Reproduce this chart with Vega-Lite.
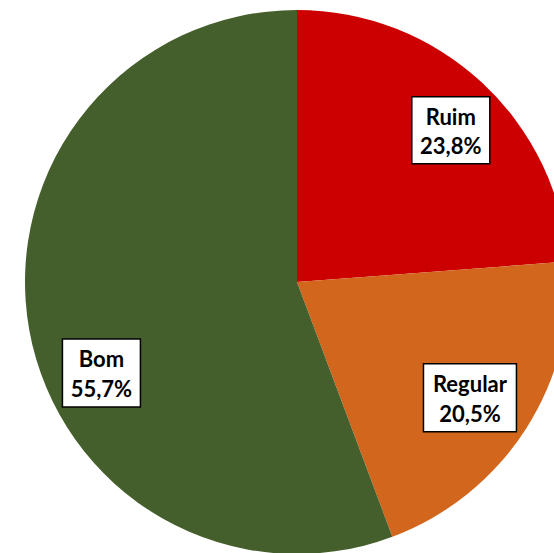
{
  "$schema": "https://vega.github.io/schema/vega-lite/v6.json",
  "width": 594,
  "height": 564,
  "padding": 0,
  "autosize": {"type": "none"},
  "background": "white",
  "config": {"view": {"stroke": null}},
  "data": {"values": [
    {"categoria": "Ruim", "valor": 23.8, "ordem": 1},
    {"categoria": "Regular", "valor": 20.5, "ordem": 2},
    {"categoria": "Bom", "valor": 55.7, "ordem": 3}
  ]},
  "transform": [
    {"stack": "valor", "groupby": [], "sort": [{"field": "ordem", "order": "ascending"}], "as": ["v0", "v1"]},
    {"calculate": "(datum.v0 + datum.v1) / 100 * PI", "as": "meio"},
    {"calculate": "sin(datum.meio) * 0.783", "as": "px"},
    {"calculate": "cos(datum.meio) * 0.783", "as": "py"},
    {"calculate": "[datum.categoria, replace(format(datum.valor, '.1f'), '.', ',') + '%']", "as": "rotulo"}
  ],
  "layer": [
    {
      "mark": {"type": "arc", "outerRadius": 272, "strokeWidth": 0},
      "encoding": {
        "theta": {"field": "v0", "type": "quantitative", "scale": {"domain": [0, 100]}},
        "theta2": {"field": "v1"},
        "color": {"field": "categoria", "type": "nominal", "scale": {"domain": ["Ruim", "Regular", "Bom"], "range": ["#CC0000", "#D2661C", "#445F2B"]}, "legend": null}
      }
    },
    {
      "transform": [{"filter": "datum.categoria == 'Ruim'"}],
      "mark": {"type": "point", "filled": true, "fill": "white", "fillOpacity": 1, "opacity": 1, "stroke": "black", "strokeWidth": 1.5, "size": 6084, "xOffset": 9, "yOffset": 4.5},
      "encoding": {
        "x": {"field": "px", "type": "quantitative", "scale": {"domain": [-1.0919, 1.0919], "nice": false, "zero": false}, "axis": null},
        "y": {"field": "py", "type": "quantitative", "scale": {"domain": [-1.0368, 1.0368], "nice": false, "zero": false}, "axis": null},
        "shape": {"field": "categoria", "type": "nominal", "scale": {"domain": ["Ruim", "Regular", "Bom"], "range": ["M-1,-0.859H1V0.859H-1Z", "M-1.192,-0.872H1.192V0.872H-1.192Z", "M-1,-0.872H1V0.872H-1Z"]}, "legend": null}
      }
    },
    {
      "transform": [{"filter": "datum.categoria == 'Ruim'"}],
      "mark": {"type": "text", "font": "Lato", "fontWeight": "bold", "fontSize": 22, "lineHeight": 29.5, "align": "center", "baseline": "middle", "color": "black", "xOffset": 9, "yOffset": 4.5, "dy": -12.5},
      "encoding": {
        "x": {"field": "px", "type": "quantitative"},
        "y": {"field": "py", "type": "quantitative"},
        "text": {"field": "rotulo"}
      }
    },
    {
      "transform": [{"filter": "datum.categoria == 'Regular'"}],
      "mark": {"type": "point", "filled": true, "fill": "white", "fillOpacity": 1, "opacity": 1, "stroke": "black", "strokeWidth": 1.5, "size": 6084, "xOffset": -6.5, "yOffset": 1},
      "encoding": {
        "x": {"field": "px", "type": "quantitative"},
        "y": {"field": "py", "type": "quantitative"},
        "shape": {"field": "categoria", "type": "nominal", "legend": null}
      }
    },
    {
      "transform": [{"filter": "datum.categoria == 'Regular'"}],
      "mark": {"type": "text", "font": "Lato", "fontWeight": "bold", "fontSize": 22, "lineHeight": 29.5, "align": "center", "baseline": "middle", "color": "black", "xOffset": -6.5, "yOffset": 1, "dy": -12.5},
      "encoding": {
        "x": {"field": "px", "type": "quantitative"},
        "y": {"field": "py", "type": "quantitative"},
        "text": {"field": "rotulo"}
      }
    },
    {
      "transform": [{"filter": "datum.categoria == 'Bom'"}],
      "mark": {"type": "point", "filled": true, "fill": "white", "fillOpacity": 1, "opacity": 1, "stroke": "black", "strokeWidth": 1.5, "size": 6084, "xOffset": 14, "yOffset": 53},
      "encoding": {
        "x": {"field": "px", "type": "quantitative"},
        "y": {"field": "py", "type": "quantitative"},
        "shape": {"field": "categoria", "type": "nominal", "legend": null}
      }
    },
    {
      "transform": [{"filter": "datum.categoria == 'Bom'"}],
      "mark": {"type": "text", "font": "Lato", "fontWeight": "bold", "fontSize": 22, "lineHeight": 29.5, "align": "center", "baseline": "middle", "color": "black", "xOffset": 14, "yOffset": 53, "dy": -12.5},
      "encoding": {
        "x": {"field": "px", "type": "quantitative"},
        "y": {"field": "py", "type": "quantitative"},
        "text": {"field": "rotulo"}
      }
    }
  ]
}
